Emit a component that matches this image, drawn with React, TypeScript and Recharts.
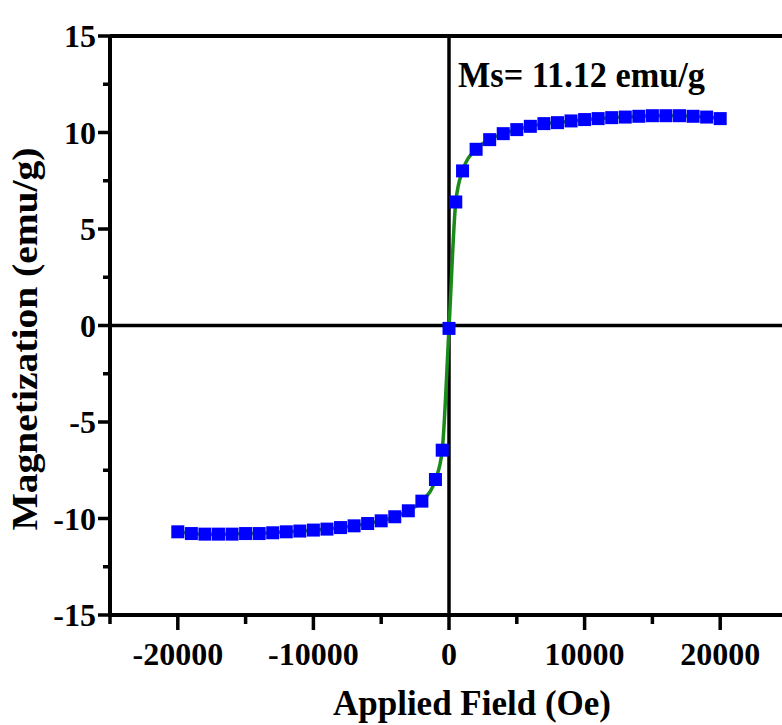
import * as React from 'react';
import { LineChart, Line, XAxis, YAxis, ReferenceLine } from 'recharts';

// applied field (Oe) and magnetization (emu/g)
const fieldOe = [
  -20000, -19000, -18000, -17000, -16000, -15000, -14000, -13000, -12000, -11000,
  -10000, -9000, -8000, -7000, -6000, -5000, -4000, -3000, -2000, -1000, -500,
  0, 500, 1000, 2000, 3000, 4000, 5000, 6000, 7000, 8000, 9000, 10000, 11000,
  12000, 13000, 14000, 15000, 16000, 17000, 18000, 19000, 20000,
];
const magnetization = [
  -10.69, -10.78, -10.81, -10.81, -10.81, -10.78, -10.78, -10.74, -10.69, -10.65,
  -10.6, -10.55, -10.47, -10.38, -10.26, -10.12, -9.91, -9.6, -9.1, -7.98, -6.46,
  -0.15, 6.4, 8.01, 9.13, 9.63, 9.94, 10.15, 10.32, 10.46, 10.51, 10.6, 10.67, 10.72,
  10.77, 10.8, 10.84, 10.87, 10.87, 10.87, 10.84, 10.8, 10.72,
];

const xTicks = [-25000, -20000, -15000, -10000, -5000, 0, 5000, 10000, 15000, 20000, 25000];
const xLabeled = [-20000, -10000, 0, 10000, 20000];
const yTicks = [-15, -12.5, -10, -7.5, -5, -2.5, 0, 2.5, 5, 7.5, 10, 12.5, 15];
const yLabeled = [-15, -10, -5, 0, 5, 10, 15];

const data = fieldOe.map((h, i) => ({ h, m: magnetization[i] }));

const FONT = '"Liberation Serif", "Times New Roman", serif';

// major ticks are longer and labelled, minor ones are bare
const renderXTick = (props: any) => {
  const { x, y, payload } = props;
  const major = xLabeled.includes(payload.value);
  const len = major ? 15 : 9;
  return (
    <g key={`xt-${payload.value}`}>
      <rect x={x - 1.75} y={y} width={3.5} height={len} fill="#000" />
      {major && (
        <text x={x} y={y + 50} textAnchor="middle" fontFamily={FONT} fontWeight="bold" fontSize={32} fill="#000">
          {payload.value}
        </text>
      )}
    </g>
  );
};

const renderYTick = (props: any) => {
  const { x, y, payload } = props;
  const major = yLabeled.includes(payload.value);
  const len = major ? 12 : 7;
  return (
    <g key={`yt-${payload.value}`}>
      <rect x={x - len} y={y - 1.75} width={len} height={3.5} fill="#000" />
      {major && (
        <text x={x - 14} y={y + 11} textAnchor="end" fontFamily={FONT} fontWeight="bold" fontSize={32} fill="#000">
          {payload.value}
        </text>
      )}
    </g>
  );
};

const SquareDot = (props: any) => {
  const { cx, cy, index } = props;
  if (cx == null || cy == null) return null;
  return <rect key={index} x={cx - 6.5} y={cy - 6.5} width={13} height={13} fill="#0000ff" />;
};

export default function App() {
  return (
    <div style={{ position: 'absolute', left: 0, top: 0, width: 782, height: 725, overflow: 'hidden', background: '#fff' }}>
      <LineChart width={800} height={725} data={data} margin={{ top: 36, right: 12, bottom: 0, left: 0 }}>
        <XAxis
          dataKey="h"
          type="number"
          domain={[-25000, 25000]}
          ticks={xTicks}
          interval={0}
          allowDataOverflow
          height={110}
          tickSize={0}
          tickMargin={0}
          tickLine={false}
          axisLine={{ stroke: '#000', strokeWidth: 4 }}
          tick={renderXTick}
        />
        <YAxis
          type="number"
          domain={[-15, 15]}
          ticks={yTicks}
          interval={0}
          allowDataOverflow
          width={110}
          tickSize={0}
          tickMargin={0}
          tickLine={false}
          axisLine={{ stroke: '#000', strokeWidth: 4 }}
          tick={renderYTick}
        />
        <ReferenceLine y={15} stroke="#000" strokeWidth={4} />
        <ReferenceLine x={25000} stroke="#000" strokeWidth={4} />
        <ReferenceLine y={0} stroke="#000" strokeWidth={3.5} />
        <ReferenceLine x={0} stroke="#000" strokeWidth={3.5} />
        <Line
          dataKey="m"
          type="monotone"
          stroke="#1a8a1a"
          strokeWidth={3.5}
          dot={<SquareDot />}
          activeDot={false}
          isAnimationActive={false}
        />
      </LineChart>
      <svg width={782} height={725} style={{ position: 'absolute', left: 0, top: 0, pointerEvents: 'none' }}>
        <text x={458} y={87} fontFamily={FONT} fontWeight="bold" fontSize={36} textLength={247} lengthAdjust="spacingAndGlyphs" fill="#000">
          Ms= 11.12 emu/g
        </text>
        <text x={472} y={715} textAnchor="middle" fontFamily={FONT} fontWeight="bold" fontSize={35} fill="#000">
          Applied Field (Oe)
        </text>
        <text
          x={0}
          y={0}
          transform="translate(37 339) rotate(-90)"
          textAnchor="middle"
          fontFamily={FONT}
          fontWeight="bold"
          fontSize={36}
          textLength={383}
          lengthAdjust="spacingAndGlyphs"
          fill="#000"
        >
          Magnetization (emu/g)
        </text>
      </svg>
    </div>
  );
}
